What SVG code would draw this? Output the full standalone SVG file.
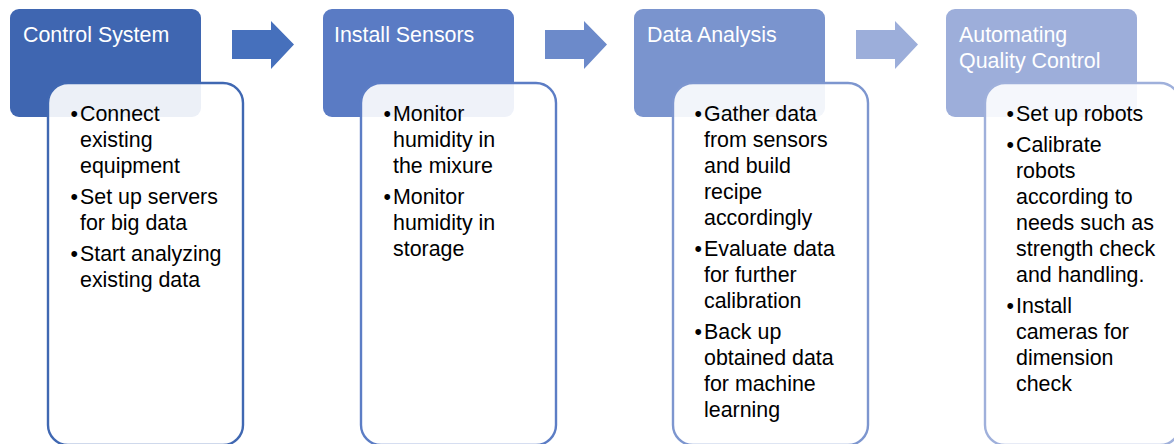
<svg xmlns="http://www.w3.org/2000/svg" width="1174" height="444" viewBox="0 0 1174 444">
  <style>
    text { font-family: "Liberation Sans", Arial, sans-serif; font-size: 21.4px; }
    .title { fill: #ffffff; }
    .body { fill: #000000; }
    .card { fill: #ffffff; fill-opacity: 0.9; stroke-width: 2.4; }
    .head { stroke: none; }
  </style>
  <defs>
    <path id="arrow" d="M0 9 H39 V0 L62 23.5 L39 48 V38 H0 Z"/>
  </defs>

  <rect width="1174" height="444" fill="#ffffff"/>

  <!-- connectors between steps -->
  <g id="connectors">
    <use href="#arrow" x="232" y="21" fill="#4670BC"/>
    <use href="#arrow" x="545" y="21" fill="#6C8ACA"/>
    <use href="#arrow" x="856" y="21" fill="#9CAEDA"/>
  </g>

  <!-- step 1 -->
  <g id="step1">
    <rect class="head" x="10" y="9" width="191" height="108" rx="9" fill="#3F66B1"/>
    <text class="title" x="23" y="42">Control System</text>
    <rect class="card" x="48" y="83" width="195" height="362" rx="20" stroke="#4068B2"/>
    <text class="body" x="70.5" y="121">•</text><text class="body" x="80" y="121">Connect</text>
    <text class="body" x="80" y="147">existing</text>
    <text class="body" x="80" y="173">equipment</text>
    <text class="body" x="70.5" y="204">•</text><text class="body" x="80" y="204">Set up servers</text>
    <text class="body" x="80" y="230">for big data</text>
    <text class="body" x="70.5" y="261">•</text><text class="body" x="80" y="261">Start analyzing</text>
    <text class="body" x="80" y="287">existing data</text>
  </g>

  <!-- step 2 -->
  <g id="step2">
    <rect class="head" x="323" y="9" width="191" height="108" rx="9" fill="#5A7BC4"/>
    <text class="title" x="334" y="42">Install Sensors</text>
    <rect class="card" x="361" y="83" width="195" height="362" rx="20" stroke="#5C7DC5"/>
    <text class="body" x="383.5" y="121">•</text><text class="body" x="393" y="121">Monitor</text>
    <text class="body" x="393" y="147">humidity in</text>
    <text class="body" x="393" y="173">the mixure</text>
    <text class="body" x="383.5" y="204">•</text><text class="body" x="393" y="204">Monitor</text>
    <text class="body" x="393" y="230">humidity in</text>
    <text class="body" x="393" y="256">storage</text>
  </g>

  <!-- step 3 -->
  <g id="step3">
    <rect class="head" x="634" y="9" width="191" height="108" rx="9" fill="#7A94CE"/>
    <text class="title" x="647" y="42">Data Analysis</text>
    <rect class="card" x="673" y="83" width="195" height="362" rx="20" stroke="#7D96CF"/>
    <text class="body" x="694.5" y="121">•</text><text class="body" x="704" y="121">Gather data</text>
    <text class="body" x="704" y="147">from sensors</text>
    <text class="body" x="704" y="173">and build</text>
    <text class="body" x="704" y="199">recipe</text>
    <text class="body" x="704" y="225">accordingly</text>
    <text class="body" x="694.5" y="256">•</text><text class="body" x="704" y="256">Evaluate data</text>
    <text class="body" x="704" y="282">for further</text>
    <text class="body" x="704" y="308">calibration</text>
    <text class="body" x="694.5" y="339">•</text><text class="body" x="704" y="339">Back up</text>
    <text class="body" x="704" y="365">obtained data</text>
    <text class="body" x="704" y="391">for machine</text>
    <text class="body" x="704" y="417">learning</text>
  </g>

  <!-- step 4 -->
  <g id="step4">
    <rect class="head" x="946" y="9" width="191" height="108" rx="9" fill="#9DAEDA"/>
    <text class="title" x="959" y="42">Automating</text>
    <text class="title" x="959" y="68">Quality Control</text>
    <rect class="card" x="985" y="83" width="195" height="362" rx="20" stroke="#9FB0DB"/>
    <text class="body" x="1006.5" y="121">•</text><text class="body" x="1016" y="121">Set up robots</text>
    <text class="body" x="1006.5" y="152">•</text><text class="body" x="1016" y="152">Calibrate</text>
    <text class="body" x="1016" y="178">robots</text>
    <text class="body" x="1016" y="204">according to</text>
    <text class="body" x="1016" y="230">needs such as</text>
    <text class="body" x="1016" y="256">strength check</text>
    <text class="body" x="1016" y="282">and handling.</text>
    <text class="body" x="1006.5" y="313">•</text><text class="body" x="1016" y="313">Install</text>
    <text class="body" x="1016" y="339">cameras for</text>
    <text class="body" x="1016" y="365">dimension</text>
    <text class="body" x="1016" y="391">check</text>
  </g>
</svg>
